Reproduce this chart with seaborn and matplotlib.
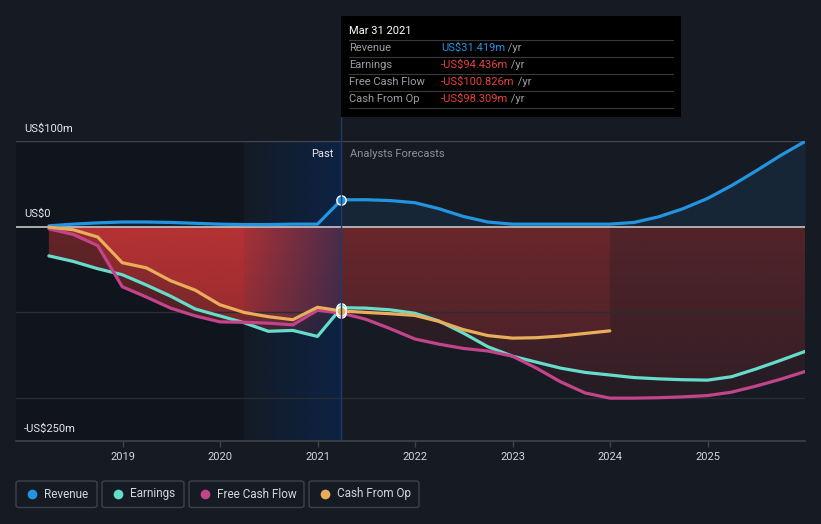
import numpy as np
import pandas as pd
import matplotlib
matplotlib.use('Agg')
import matplotlib.pyplot as plt
import matplotlib.dates as mdates
from matplotlib.patches import FancyBboxPatch, Rectangle
from matplotlib.lines import Line2D
import seaborn as sns

# ---------------- data (US$ m) ----------------
past_dates = ['2018-03-31', '2018-06-30', '2018-09-30', '2018-12-31', '2019-03-31', '2019-06-30',
              '2019-09-30', '2019-12-31', '2020-03-31', '2020-06-30', '2020-09-30', '2020-12-31',
              '2021-03-31']
revenue_past = [1, 3, 4.5, 5.5, 5.5, 5, 4, 3, 2.5, 2.5, 3, 3, 31.419]
earnings_past = [-34, -40.5, -49, -56, -68, -81, -96, -104, -112, -122, -121, -128, -94.436]
fcf_past = [-2.5, -9, -22, -70, -82, -95, -104, -111, -111.5, -112.5, -114.5, -97.5, -100.826]
cfo_past = [-0.5, -3.5, -12, -42, -48, -63, -74, -91, -100, -105, -108.5, -94, -98.309]

fc_dates = ['2021-06-30', '2021-09-30', '2021-12-31', '2022-03-31', '2022-06-30', '2022-09-30',
            '2022-12-31', '2023-03-31', '2023-06-30', '2023-09-30', '2023-12-31', '2024-03-31',
            '2024-06-30', '2024-09-30', '2024-12-31', '2025-03-31', '2025-06-30', '2025-09-30',
            '2025-12-31']
revenue_fc = [31.5, 30.5, 28, 21, 12, 5.5, 3, 3, 3, 3, 3, 5, 11.5, 21, 33, 48, 65, 83, 99.5]
earnings_fc = [-95, -97, -101, -110, -124, -140, -151, -158, -165, -170, -173, -176, -177.5,
               -178.5, -179, -175, -166, -156, -145.5]
fcf_fc = [-108, -119, -131, -137, -142, -145, -151, -165, -181, -194, -200, -200, -199.5,
          -198.5, -197, -193, -186, -178, -169]
cfo_fc = [-100, -101.5, -103.5, -110.5, -120, -127, -130, -129.5, -127.5, -124.5, -121.5]

series_names = ['Revenue', 'Earnings', 'Free Cash Flow', 'Cash From Op']
series_colors = ['#2394df', '#66dccb', '#c2448a', '#e9ae5b']
tick_years = ['2019', '2020', '2021', '2022', '2023', '2024', '2025']
tooltip_date = 'Mar 31 2021'
tooltip_values = ['US$31.419m', '-US$94.436m', '-US$100.826m', '-US$98.309m']
y_labels = {100: 'US$100m', 0: 'US$0', -250: '-US$250m'}

# ---------------- build frame ----------------
rows = []
def add(name, dates, vals):
    for d, v in zip(dates, vals):
        rows.append({'series': name, 'date': pd.Timestamp(d), 'value': v})
add('Revenue', past_dates + fc_dates, revenue_past + revenue_fc)
add('Earnings', past_dates + fc_dates, earnings_past + earnings_fc)
add('Free Cash Flow', past_dates + fc_dates, fcf_past + fcf_fc)
add('Cash From Op', past_dates + fc_dates[:len(cfo_fc)], cfo_past + cfo_fc)
df = pd.DataFrame(rows)

BG = '#151a23'
sns.set_theme(style='dark')
plt.rcParams['font.family'] = ['Roboto', 'DejaVu Sans']

fig = plt.figure(figsize=(8.21, 5.24), dpi=100, facecolor=BG)
ax = fig.add_axes([16 / 821, 83 / 524, 789 / 821, 300 / 524])
ax.set_facecolor(BG)

xmin = mdates.date2num(pd.Timestamp('2017-11-28'))
xmax = mdates.date2num(pd.Timestamp('2025-12-31'))
x_now = mdates.date2num(pd.Timestamp('2021-03-31'))
x_band = mdates.date2num(pd.Timestamp('2020-03-31'))
YMIN, YMAX = -250, 100

# dark past background
ax.axvspan(xmin, x_band, ymin=0, ymax=1, color='black', alpha=0.2, lw=0, zorder=0)

# red gradient fills for negative series
def grad_img(rgb, a_top, a_bot, n=200):
    a = np.linspace(a_top, a_bot, n)
    img = np.zeros((n, 1, 4))
    img[:, 0, 0] = rgb[0] / 255
    img[:, 0, 1] = rgb[1] / 255
    img[:, 0, 2] = rgb[2] / 255
    img[:, 0, 3] = a
    return img

red = (222, 58, 58)
for name in ['Earnings', 'Free Cash Flow', 'Cash From Op']:
    sub = df[df.series == name]
    xs = mdates.date2num(sub.date)
    ys = sub.value.values
    poly = ax.fill_between(xs, ys, 0, facecolor='none', edgecolor='none', lw=0)
    path = poly.get_paths()[0]
    im1 = ax.imshow(grad_img(red, 0.42, 0.16), extent=[xmin, x_now, YMIN, 0], aspect='auto',
                    origin='upper', zorder=1, interpolation='bilinear')
    im1.set_clip_path(path, transform=ax.transData)
    im2 = ax.imshow(grad_img(red, 0.17, 0.06), extent=[x_now, xmax, YMIN, 0], aspect='auto',
                    origin='upper', zorder=1, interpolation='bilinear')
    im2.set_clip_path(path, transform=ax.transData)

# revenue fill
sub = df[df.series == 'Revenue']
ax.fill_between(mdates.date2num(sub.date), sub.value.values, 0, color='#2394df', alpha=0.1,
                lw=0, zorder=1)

# blue band gradient (last 12 months)
n = 200
band = np.zeros((1, n, 4))
band[0, :, 0] = 8 / 255
band[0, :, 1] = 40 / 255
band[0, :, 2] = 88 / 255
band[0, :, 3] = np.linspace(0.08, 0.62, n)
ax.imshow(band, extent=[x_band, x_now, YMIN, YMAX], aspect='auto', origin='upper', zorder=2,
          interpolation='bilinear')

# grid lines
ax.axhline(100, color='#42474f', lw=1, zorder=2.2)
for yv in (-100, -200):
    ax.axhline(yv, color='#272c35', lw=1, zorder=2.2)
ax.axhline(0, color='#b8b8b8', lw=1.3, zorder=2.5)

# lines
palette = dict(zip(series_names, series_colors))
sns.lineplot(data=df, x='date', y='value', hue='series', palette=palette, hue_order=series_names,
             lw=2.3, legend=False, ax=ax, estimator=None, zorder=3)

# markers at current date
for name, col in zip(series_names, series_colors):
    v = df[(df.series == name) & (df.date == pd.Timestamp('2021-03-31'))].value.values[0]
    ax.scatter([pd.Timestamp('2021-03-31')], [v], s=45, color=col, edgecolor='white', lw=1,
               zorder=5)

ax.set_xlim(xmin, xmax)
ax.set_ylim(YMIN, YMAX)
ax.set_xlabel('')
ax.set_ylabel('')
ax.set_yticks([])
for s in ['top', 'right', 'left']:
    ax.spines[s].set_visible(False)
ax.spines['bottom'].set_color('#3d424b')
ax.spines['bottom'].set_linewidth(1.2)
ax.set_xticks([mdates.date2num(pd.Timestamp(y + '-01-01')) for y in tick_years])
ax.set_xticklabels(tick_years)
ax.tick_params(axis='x', colors='#3d424b', labelcolor='#d4d6d9', length=4, width=1,
               labelsize=8, pad=4, direction='out', bottom=True)

# y labels
for yv, lab in y_labels.items():
    ax.annotate(lab, xy=(8 / 789, yv), xycoords=('axes fraction', 'data'), xytext=(0, 9),
                textcoords='offset points', ha='left', va='center', color='#e6e7e9',
                fontsize=8, annotation_clip=False)

# Past / Analysts Forecasts
ax.annotate('Past', xy=(x_now, 100), xycoords='data', xytext=(-6, -9),
            textcoords='offset points', ha='right', va='center', color='#e6e7e9', fontsize=8)
ax.annotate('Analysts Forecasts', xy=(x_now, 100), xycoords='data', xytext=(6, -9),
            textcoords='offset points', ha='left', va='center', color='#8b9099', fontsize=8)

# vertical line at current date
fig.add_artist(Line2D([341 / 821, 341 / 821], [1 - 116 / 524, 1 - 441 / 524],
                      transform=fig.transFigure, color='#1f3b66', lw=1, zorder=6))

# tooltip
fig.add_artist(Rectangle((341 / 821, 1 - 117 / 524), 340 / 821, 101 / 524,
                         transform=fig.transFigure, facecolor='black', edgecolor='none',
                         zorder=10))
def fy(py):
    return 1 - py / 524
fig.text(349 / 821, fy(31.5), tooltip_date, color='white', fontsize=8, va='center',
         ha='left', zorder=11)
row_y = [48.3, 65.3, 82.3, 99.3]
sep_y = [40.3, 57.3, 74.3, 91.3, 108.3]
for sy in sep_y:
    fig.add_artist(Line2D([349 / 821, 673 / 821], [fy(sy), fy(sy)], transform=fig.transFigure,
                          color='#3a3a3a', lw=0.8, zorder=11))
val_colors = ['#2394df', '#e8403f', '#e8403f', '#e8403f']
for ry, name, val, vc in zip(row_y, series_names, tooltip_values, val_colors):
    fig.text(349 / 821, fy(ry), name, color='#9a9ea4', fontsize=8, va='center', ha='left',
             zorder=11)
    t = fig.text(441 / 821, fy(ry), val, color=vc, fontsize=8, va='center', ha='left', zorder=11)
    fig.add_artist(matplotlib.text.Annotation(' /yr', xy=(1, 0.5), xycoords=t, va='center',
                                              ha='left', color='#9a9ea4', fontsize=8,
                                              zorder=11))

# legend boxes
boxes = [(16, 97), (102, 184), (189, 304), (309, 419)]
dots = [32, 118, 205, 325]
texts = [44, 130, 217, 337]
for (x0, x1), dx, tx, name, col in zip(boxes, dots, texts, series_names, series_colors):
    fig.add_artist(FancyBboxPatch((x0 / 821, fy(507.5)), (x1 - x0) / 821, 26.5 / 524,
                                  boxstyle='round,pad=0,rounding_size=0.004',
                                  transform=fig.transFigure, facecolor='none',
                                  edgecolor='#3d424b', lw=1))
    fig.add_artist(Line2D([dx / 821], [fy(494)], marker='o', markersize=7, color=col,
                          markeredgewidth=0, transform=fig.transFigure))
    fig.text(tx / 821, fy(494), name, color='#d4d6d9', fontsize=8.5, va='center', ha='left')

fig.savefig('out.png', dpi=100, facecolor=BG)
